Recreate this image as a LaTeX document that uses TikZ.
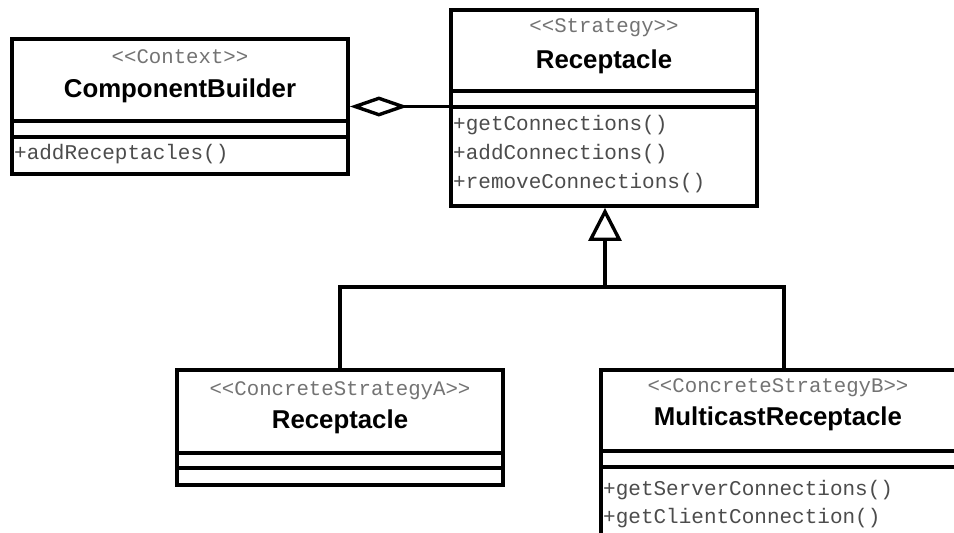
\documentclass[tikz,border=0pt]{standalone}
\usepackage{fontspec}
\setmainfont{Liberation Sans}
\newfontfamily\monofam{Liberation Mono}
\usetikzlibrary{arrows.meta}
\tikzset{
  umlbox/.style={draw, line width=3.8pt, fill=white, inner sep=0pt},
  divline/.style={line width=3.6pt},
  conn/.style={line width=3.4pt},
  stereo/.style={font=\monofam\fontsize{20.7}{22}\selectfont, text=black!55, anchor=base, inner sep=0pt},
  cname/.style={font=\bfseries\fontsize{25.8}{28}\selectfont, anchor=base, inner sep=0pt},
  meth/.style={font=\monofam\fontsize{21}{23}\selectfont, text=black!70, anchor=base west, inner sep=0pt},
}
\begin{document}
\begin{tikzpicture}[x=1pt,y=-1pt]
\useasboundingbox (0,0) rectangle (954,533);
\clip (0,0) rectangle (954,533);
% ComponentBuilder
\node[umlbox, minimum width=336pt, minimum height=135pt] (cb) at (180,106.5) {};
\draw[divline] (cb.west |- 0,121) -- (cb.east |- 0,121);
\draw[divline] (cb.west |- 0,137) -- (cb.east |- 0,137);
\node[stereo] (cbs) at (180,63) {<{}<Context>{}>};
\node[cname] (cbn) at (180,97) {ComponentBuilder};
\node[meth] (cbm1) at (14,159) {+addReceptacles()};
% Strategy
\node[umlbox, minimum width=306pt, minimum height=196pt] (st) at (604,108) {};
\draw[divline] (st.west |- 0,91) -- (st.east |- 0,91);
\draw[divline] (st.west |- 0,107) -- (st.east |- 0,107);
\node[stereo] (sts) at (604,32) {<{}<Strategy>{}>};
\node[cname] (stn) at (604,68) {Receptacle};
\node[meth] (stm1) at (453,130) {+getConnections()};
\node[meth] (stm2) at (453,159) {+addConnections()};
\node[meth] (stm3) at (453,188) {+removeConnections()};
% Concrete A
\node[umlbox, minimum width=326pt, minimum height=115pt] (ca) at (340,427.5) {};
\draw[divline] (ca.west |- 0,453) -- (ca.east |- 0,453);
\draw[divline] (ca.west |- 0,468) -- (ca.east |- 0,468);
\node[stereo] (cas) at (340,395) {<{}<ConcreteStrategyA>{}>};
\node[cname] (can) at (340,428) {Receptacle};
% Concrete B
\node[umlbox, minimum width=366pt, minimum height=190pt] (cbb) at (784,465) {};
\draw[divline] (cbb.west |- 0,451) -- (cbb.east |- 0,451);
\draw[divline] (cbb.west |- 0,467) -- (cbb.east |- 0,467);
\node[stereo] (cbbs) at (778,392) {<{}<ConcreteStrategyB>{}>};
\node[cname] (cbbn) at (778,425) {MulticastReceptacle};
\node[meth] (cbbm1) at (603,495) {+getServerConnections()};
\node[meth] (cbbm2) at (603,523) {+getClientConnection()};
% aggregation
\draw[conn, {Diamond[open, length=58pt, width=20pt, line width=3.4pt]}-] (cb.east) -- (cb.east -| st.west);
% generalization
\coordinate (j) at (605,287);
\draw[conn] (ca.north) |- (j) -| (cbb.north);
\draw[conn, -{Triangle[open, length=33pt, width=33pt, line width=3.4pt]}] (j) -- (j |- st.south);
\end{tikzpicture}
\end{document}
